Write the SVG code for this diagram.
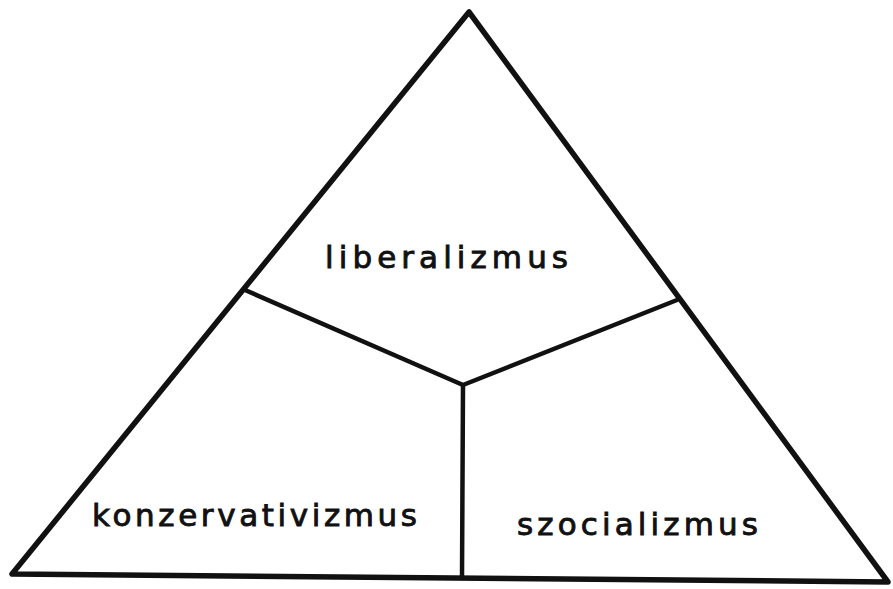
<svg xmlns="http://www.w3.org/2000/svg" width="893" height="589" viewBox="0 0 893 589">
<style>
.edge{stroke:#111;fill:none;stroke-linecap:round;stroke-linejoin:round}
.outer{stroke-width:5.5}
.inner{stroke-width:4.5}
.lbl{font-family:"DejaVu Sans","Liberation Sans",sans-serif;font-size:31px;fill:#111;stroke:#111;stroke-width:0.9}
</style>
<rect width="893" height="589" fill="#fff"/>
<g id="connectors">
<polygon class="edge outer" points="469,12 12,574 888,582"/>
<polyline class="edge inner" points="245,290 463,385 677,300"/>
<line class="edge inner" x1="463" y1="385" x2="462" y2="578"/>
</g>
<g id="liberalizmus"><text class="lbl" x="325" y="268" textLength="243" lengthAdjust="spacing">liberalizmus</text></g>
<g id="konzervativizmus"><text class="lbl" x="92" y="526" textLength="325" lengthAdjust="spacing">konzervativizmus</text></g>
<g id="szocializmus"><text class="lbl" x="517" y="535" textLength="241" lengthAdjust="spacing">szocializmus</text></g>
</svg>
